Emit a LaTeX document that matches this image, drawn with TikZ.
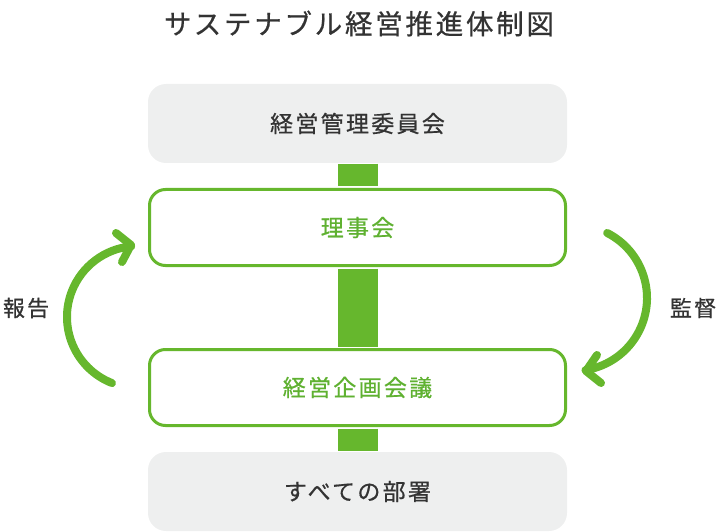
\documentclass[tikz,border=0pt]{standalone}
\usepackage{fontspec}
\setmainfont{Noto Sans CJK JP}
\newfontfamily\jpfont[LetterSpace=10,FakeBold=0.6]{Noto Sans CJK JP}
\definecolor{grn}{HTML}{66B72D}
\definecolor{txtgrn}{HTML}{5FB131}
\definecolor{dark}{HTML}{333333}
\definecolor{pale}{HTML}{EEEFEF}
\begin{document}
\begin{tikzpicture}[x=1pt,y=-1pt,
  graybox/.style={fill=pale, rounded corners=18pt, minimum width=419pt, minimum height=79pt, inner sep=0pt, text=dark, font=\jpfont\fontsize{23}{26}\selectfont},
  grnbox/.style={fill=white, draw=grn, line width=3pt, rounded corners=16pt, minimum width=416pt, minimum height=76pt, inner sep=0pt, text=txtgrn, font=\jpfont\fontsize{23}{26}\selectfont},
  bar/.style={draw=grn, line width=40pt},
  arc/.style={draw=grn, line width=8pt, line cap=round, line join=round},
  lbl/.style={text=dark, font=\jpfont\fontsize{22}{24}\selectfont, inner sep=0pt}]
\useasboundingbox (0,0) rectangle (718,532);
\node (title) at (359,23.5) [text=dark, font=\jpfont\fontsize{27.5}{30}\selectfont, inner sep=0pt] {サステナブル経営推進体制図};
\node[graybox] (top) at (357.5,123.5) {経営管理委員会};
\node[grnbox] (riji) at (357.5,227.5) {理事会};
\node[grnbox] (kikaku) at (357.5,387.5) {経営企画会議};
\node[graybox] (bottom) at (357.5,491.5) {すべての部署};
\draw[bar] ([yshift=-0.5pt]top.south) -- ([yshift=1.5pt]riji.north);
\draw[bar] ([yshift=-1.5pt]riji.south) -- ([yshift=1.5pt]kikaku.north);
\draw[bar] ([yshift=-1.5pt]kikaku.south) -- ([yshift=0.5pt]bottom.north);
% left arrow (report)
\coordinate (lc) at (138,317);
\coordinate (ltip) at (131,245);
\draw[arc] (lc) ++(111.5:71) arc[start angle=111.5, end angle=264.5, radius=71];
\draw[arc] (116,233) -- (ltip) -- (122,262);
% right arrow (audit)
\coordinate (rc) at (574,298);
\coordinate (rtip) at (586,371);
\draw[arc] (rc) ++(-63:73) arc[start angle=-63, end angle=81, radius=73];
\draw[arc] (597,355) -- (rtip) -- (601,383);
\node[lbl] (report) at (26,308) {報告};
\node[lbl] (audit) at (693,308) {監督};
\end{tikzpicture}
\end{document}
